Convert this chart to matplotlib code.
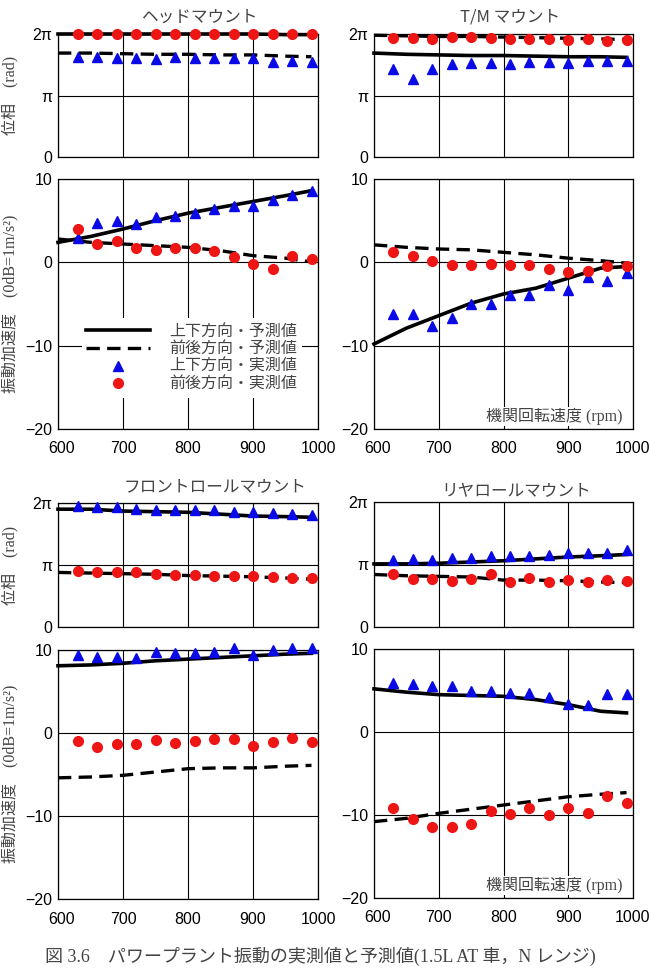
import numpy as np
import matplotlib.pyplot as plt
from matplotlib.lines import Line2D
from matplotlib.transforms import ScaledTranslation

plt.rcParams['font.family'] = ['Liberation Sans', 'Noto Sans CJK JP']

# 回転速度
rpm_meas = [630, 660, 690, 720, 750, 780, 810, 840, 870, 900, 930, 960, 990]
rpm_pred = [600, 650, 700, 750, 800, 850, 900, 950, 990]

# 位相 (π 単位)
head_ph_up_pred = [2.0, 2.0, 2.0, 2.0, 2.0, 2.0, 2.0, 1.99, 1.99]
head_ph_fb_pred = [1.69, 1.69, 1.68, 1.67, 1.67, 1.66, 1.66, 1.64, 1.63]
head_ph_up_meas = [1.62, 1.63, 1.61, 1.61, 1.59, 1.62, 1.61, 1.61, 1.61, 1.61, 1.54, 1.56, 1.54]
head_ph_fb_meas = [2.0, 2.0, 2.0, 2.0, 2.0, 2.0, 2.0, 2.0, 2.0, 2.0, 2.0, 2.0, 2.0]

tm_ph_up_pred = [1.69, 1.67, 1.66, 1.65, 1.65, 1.64, 1.63, 1.63, 1.62]
tm_ph_fb_pred = [1.98, 1.97, 1.96, 1.96, 1.95, 1.94, 1.93, 1.92, 1.91]
tm_ph_up_meas = [1.43, 1.27, 1.43, 1.51, 1.53, 1.53, 1.52, 1.54, 1.54, 1.53, 1.56, 1.56, 1.56]
tm_ph_fb_meas = [1.94, 1.94, 1.92, 1.95, 1.95, 1.93, 1.92, 1.92, 1.92, 1.90, 1.92, 1.89, 1.90]

fr_ph_up_pred = [1.90, 1.90, 1.87, 1.86, 1.85, 1.82, 1.79, 1.78, 1.77]
fr_ph_fb_pred = [0.88, 0.87, 0.86, 0.85, 0.83, 0.82, 0.81, 0.79, 0.77]
fr_ph_up_meas = [1.95, 1.93, 1.93, 1.90, 1.89, 1.89, 1.88, 1.88, 1.86, 1.85, 1.84, 1.83, 1.81]
fr_ph_fb_meas = [0.90, 0.88, 0.88, 0.88, 0.85, 0.84, 0.84, 0.82, 0.82, 0.82, 0.81, 0.79, 0.79]

rr_ph_up_pred = [1.01, 1.01, 1.02, 1.04, 1.06, 1.09, 1.12, 1.14, 1.16]
rr_ph_fb_pred = [0.84, 0.82, 0.81, 0.80, 0.75, 0.75, 0.74, 0.72, 0.71]
rr_ph_up_meas = [1.08, 1.09, 1.08, 1.10, 1.10, 1.13, 1.14, 1.14, 1.16, 1.18, 1.19, 1.19, 1.24]
rr_ph_fb_meas = [0.85, 0.77, 0.77, 0.74, 0.77, 0.85, 0.72, 0.78, 0.72, 0.75, 0.72, 0.75, 0.73]

# 振動加速度 (dB)
head_db_up_pred = [2.4, 3.1, 4.0, 5.0, 5.9, 6.6, 7.3, 8.0, 8.6]
head_db_fb_pred = [2.8, 2.4, 2.2, 2.0, 1.8, 1.4, 0.8, 0.5, 0.05]
head_db_up_meas = [2.9, 4.7, 5.0, 4.6, 5.4, 5.6, 5.9, 6.4, 6.7, 6.8, 7.5, 8.1, 8.6]
head_db_fb_meas = [4.0, 2.2, 2.5, 1.7, 1.5, 1.7, 1.7, 1.3, 0.6, -0.2, -0.8, 0.8, 0.4]

tm_db_up_pred = [-9.8, -7.9, -6.4, -4.9, -3.8, -3.1, -1.9, -0.7, -0.5]
tm_db_fb_pred = [2.1, 1.8, 1.6, 1.5, 1.2, 0.9, 0.5, 0.2, -0.1]
tm_db_up_meas = [-6.2, -6.2, -7.7, -6.7, -5.0, -5.0, -3.9, -3.9, -2.7, -3.3, -1.8, -2.2, -1.3]
tm_db_fb_meas = [1.2, 0.7, 0.1, -0.3, -0.3, -0.2, -0.3, -0.3, -0.8, -1.2, -1.1, -0.4, -0.5]

fr_db_up_pred = [8.1, 8.2, 8.4, 8.7, 8.9, 9.1, 9.3, 9.5, 9.6]
fr_db_fb_pred = [-5.4, -5.3, -5.1, -4.7, -4.3, -4.2, -4.2, -4.0, -3.9]
fr_db_up_meas = [9.4, 9.2, 9.2, 9.0, 9.8, 9.6, 9.6, 9.8, 10.2, 9.4, 10.0, 10.2, 10.2]
fr_db_fb_meas = [-1.0, -1.7, -1.3, -1.3, -0.9, -1.2, -1.0, -0.7, -0.7, -1.6, -1.1, -0.6, -1.1]

rr_db_up_pred = [5.2, 4.8, 4.5, 4.4, 4.3, 3.9, 3.3, 2.5, 2.3]
rr_db_fb_pred = [-10.8, -10.4, -9.8, -9.3, -8.8, -8.3, -7.8, -7.5, -7.3]
rr_db_up_meas = [5.9, 5.8, 5.6, 5.5, 4.9, 5.0, 4.7, 4.7, 4.2, 3.4, 3.3, 4.6, 4.6]
rr_db_fb_meas = [-9.2, -10.5, -11.4, -11.4, -11.1, -9.5, -9.9, -9.1, -10.0, -9.2, -9.8, -7.7, -8.5]

titles = ['ヘッドマウント', 'T/M マウント', 'フロントロールマウント', 'リヤロールマウント']
legend_labels = ['上下方向・予測値', '前後方向・予測値', '上下方向・実測値', '前後方向・実測値']
xticks = [600, 700, 800, 900, 1000]
caption = '図 3.6　パワープラント振動の実測値と予測値(1.5L AT 車，N レンジ)'

W, H = 649, 968
BLUE = '#0a0ae6'
RED = '#ee1515'
GREY = '#444444'
CJK = ['Noto Sans CJK JP']
MIX = ['Liberation Serif', 'Noto Sans CJK JP']
DASH = (0, (4, 2.2))

fig = plt.figure(figsize=(W / 100, H / 100), dpi=100)
fig.patch.set_facecolor('white')


def box(l, r, t, b):
    return [l / W, 1 - b / H, (r - l) / W, (b - t) / H]


def style(ax):
    ax.set_xlim(600, 1000)
    ax.set_xticks(xticks)
    ax.grid(True, color='black', linewidth=0.8)
    ax.tick_params(length=0, labelsize=11.5, colors='black')
    for s in ax.spines.values():
        s.set_linewidth(0.9)


def draw(ax, up_pred, fb_pred, up_meas, fb_meas, scale=1.0):
    ax.plot(rpm_pred, np.array(up_pred) * scale, color='black', lw=2.6, zorder=3, clip_on=False)
    ax.plot(rpm_pred, np.array(fb_pred) * scale, color='black', lw=2.4, ls=DASH, zorder=3, clip_on=False)
    ax.plot(rpm_meas, np.array(up_meas) * scale, ls='none', marker='^', ms=7.5, color=BLUE, zorder=4, clip_on=False)
    ax.plot(rpm_meas, np.array(fb_meas) * scale, ls='none', marker='o', ms=7, color=RED, zorder=4, clip_on=False)


panels = [
    (58, 318, 34, 157, 179, 429, head_ph_up_pred, head_ph_fb_pred, head_ph_up_meas, head_ph_fb_meas,
     head_db_up_pred, head_db_fb_pred, head_db_up_meas, head_db_fb_meas),
    (374, 633, 34, 157, 179, 429, tm_ph_up_pred, tm_ph_fb_pred, tm_ph_up_meas, tm_ph_fb_meas,
     tm_db_up_pred, tm_db_fb_pred, tm_db_up_meas, tm_db_fb_meas),
    (58, 318, 503, 627, 650, 899, fr_ph_up_pred, fr_ph_fb_pred, fr_ph_up_meas, fr_ph_fb_meas,
     fr_db_up_pred, fr_db_fb_pred, fr_db_up_meas, fr_db_fb_meas),
    (374, 633, 502, 627, 649, 898, rr_ph_up_pred, rr_ph_fb_pred, rr_ph_up_meas, rr_ph_fb_meas,
     rr_db_up_pred, rr_db_fb_pred, rr_db_up_meas, rr_db_fb_meas),
]
title_pos = [(200, 17), (510, 17), (215, 487), (516, 492)]

amp_axes = []
for i, p in enumerate(panels):
    l, r, pt, pb, at, ab = p[:6]
    # 位相
    axp = fig.add_axes(box(l, r, pt, pb))
    style(axp)
    axp.set_ylim(0, 2 * np.pi)
    axp.set_yticks([0, np.pi, 2 * np.pi])
    axp.set_yticklabels(['0', 'π', '2π'])
    axp.tick_params(labelbottom=False, pad=4)
    draw(axp, *p[6:10], scale=np.pi)
    # 振動加速度
    axa = fig.add_axes(box(l, r, at, ab))
    style(axa)
    axa.set_ylim(-20, 10)
    axa.set_yticks([-20, -10, 0, 10])
    axa.set_yticklabels(['−20', '−10', '0', '10'])
    axa.tick_params(axis='y', pad=4)
    axa.tick_params(axis='x', pad=9)
    draw(axa, *p[10:14])
    lab0 = axa.get_xticklabels()[0]
    lab0.set_transform(lab0.get_transform() + ScaledTranslation(4 / 100, 0, fig.dpi_scale_trans))
    amp_axes.append(axa)

    tx, ty = title_pos[i]
    fig.text(tx / W, 1 - ty / H, titles[i], ha='center', va='center',
             fontsize=12, color=GREY, family=CJK)

    if i % 2 == 1:
        axa.text(0.96, 0.05, '機関回転速度 (rpm)', transform=axa.transAxes, ha='right', va='center',
                 fontsize=11.5, color=GREY, family=MIX, zorder=5,
                 bbox=dict(facecolor='white', edgecolor='none', pad=1))

# 縦軸ラベル
for yc_ph, yc_amp in [(95, 304), (565, 774)]:
    fig.text(10 / W, 1 - yc_ph / H, '位相　(rad)', rotation=90, ha='center', va='center',
             fontsize=11.5, color=GREY, family=MIX)
    fig.text(10 / W, 1 - yc_amp / H, '振動加速度　(0dB=1m/s²)', rotation=90, ha='center', va='center',
             fontsize=11.5, color=GREY, family=MIX)

# 凡例
handles = [
    Line2D([], [], color='black', lw=2.6),
    Line2D([], [], color='black', lw=2.4, ls=DASH),
    Line2D([], [], ls='none', marker='^', ms=7.5, color=BLUE),
    Line2D([], [], ls='none', marker='o', ms=7, color=RED),
]
leg = amp_axes[0].legend(handles, legend_labels, loc='center left', bbox_to_anchor=(0.06, 0.285),
                         frameon=True, facecolor='white', edgecolor='none', framealpha=1,
                         fancybox=False, borderpad=0.3, handlelength=4.0, handletextpad=1.2,
                         labelspacing=0.05, prop={'family': CJK, 'size': 11.5})
for t in leg.get_texts():
    t.set_color(GREY)
leg.set_zorder(6)

fig.text(45 / W, 1 - 966 / H, caption, ha='left', va='bottom', fontsize=13, color=GREY, family=MIX)

fig.savefig('out.png', dpi=100, facecolor='white')
